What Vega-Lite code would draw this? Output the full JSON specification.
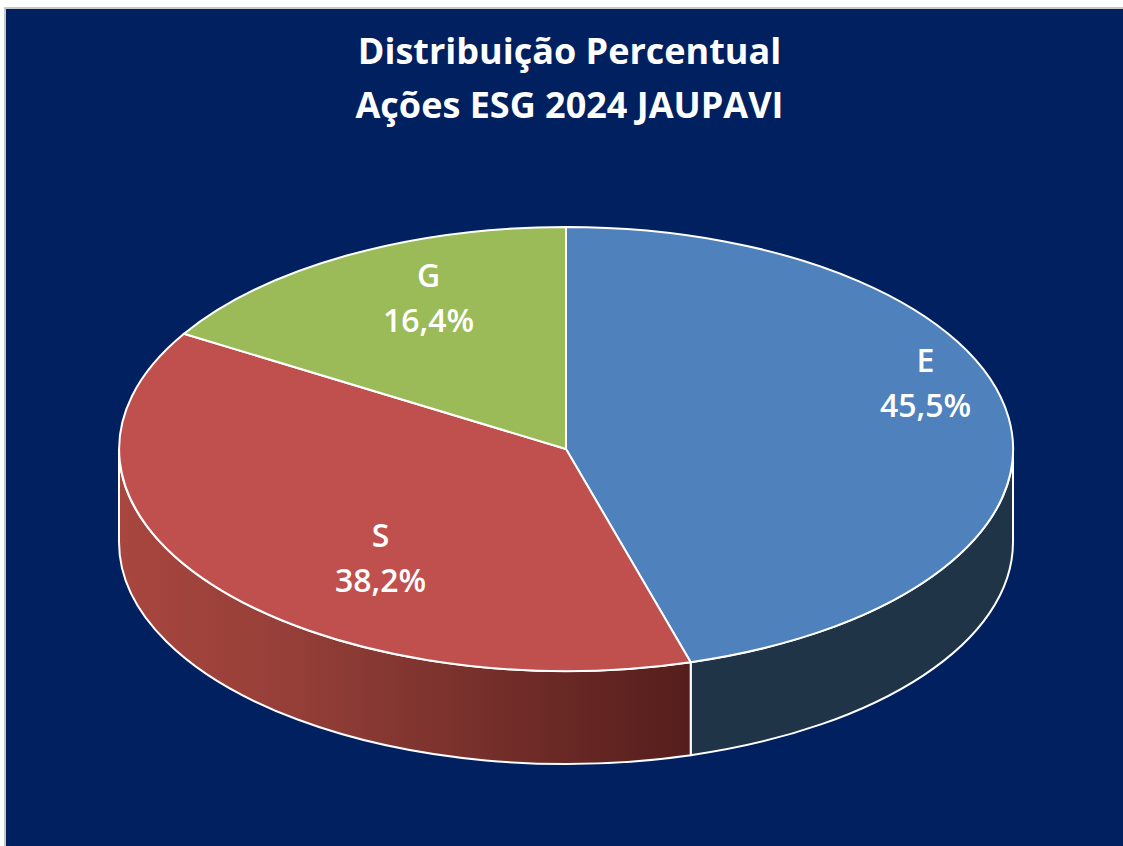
{
"$schema":"https://vega.github.io/schema/vega-lite/v6.json",
"autosize":"none",
"width":1121,"height":841,
"padding":{"left":5,"top":8,"right":-3,"bottom":-3},
"background":"#ffffff",
"view":{"fill":"#002060","stroke":"#C9C9C9","strokeWidth":2},
"title":{"text":["Distribuição Percentual","Ações ESG 2024 JAUPAVI"],"color":"white","font":"Open Sans","fontWeight":"bold","fontSize":36,"lineHeight":54,"anchor":"middle","offset":-118,"dx":4},
"data":{"values":[
{"segment":"E","value":45.5,"label":"E\n45,5%"},
{"segment":"S","value":38.2,"label":"S\n38,2%"},
{"segment":"G","value":16.4,"label":"G\n16,4%"}
]},
"layer":[
{"transform":[{"filter":"datum.segment==='E'"}],
 "mark":{"type":"point","filled":true,"opacity":1,"size":4,"color":"#203448","stroke":"white","strokeWidth":2,
 "shape":"M447.5,20.5L447.5,113.5A447,222 0 0 1 125.2,326.7L125.2,233.7A447,222 0 0 0 447.5,20.5Z"}},
{"transform":[{"filter":"datum.segment==='S'"}],
 "mark":{"type":"point","filled":true,"opacity":1,"size":4,"stroke":"white","strokeWidth":2,
 "color":{"gradient":"linear","x1":0,"y1":0,"x2":1,"y2":0,"stops":[{"offset":0,"color":"#A8463F"},{"offset":0.3,"color":"#953F38"},{"offset":1,"color":"#551E1C"}]},
 "shape":"M125.2,233.7L125.2,326.7A447,222 0 0 1 -446.5,113.5L-446.5,20.5A447,222 0 0 0 125.2,233.7Z"}},
{"mark":{"type":"point","filled":true,"opacity":1,"size":4,"stroke":"white","strokeWidth":2},
 "encoding":{
  "shape":{"field":"segment","type":"nominal","legend":null,"scale":{"domain":["E","S","G"],"range":[
   "M0.5,20.5L0.5,-201.5A447,222 0 0 1 125.2,233.7Z",
   "M0.5,20.5L125.2,233.7A447,222 0 0 1 -381.5,-94.7Z",
   "M0.5,20.5L-381.5,-94.7A447,222 0 0 1 0.5,-201.5Z"]}},
  "color":{"field":"segment","type":"nominal","legend":null,"scale":{"domain":["E","S","G"],"range":["#4F81BD","#C0504D","#9BBB59"]}}
 }},
{"transform":[{"filter":"datum.segment==='E'"}],"mark":{"type":"text","color":"white","font":"Open Sans","fontWeight":600,"fontSize":32,"lineHeight":45,"lineBreak":"\n","dx":360,"dy":-67},"encoding":{"text":{"field":"label"}}},
{"transform":[{"filter":"datum.segment==='S'"}],"mark":{"type":"text","color":"white","font":"Open Sans","fontWeight":600,"fontSize":32,"lineHeight":45,"lineBreak":"\n","dx":-185,"dy":108},"encoding":{"text":{"field":"label"}}},
{"transform":[{"filter":"datum.segment==='G'"}],"mark":{"type":"text","color":"white","font":"Open Sans","fontWeight":600,"fontSize":32,"lineHeight":45,"lineBreak":"\n","dx":-137,"dy":-152},"encoding":{"text":{"field":"label"}}}
]
}
